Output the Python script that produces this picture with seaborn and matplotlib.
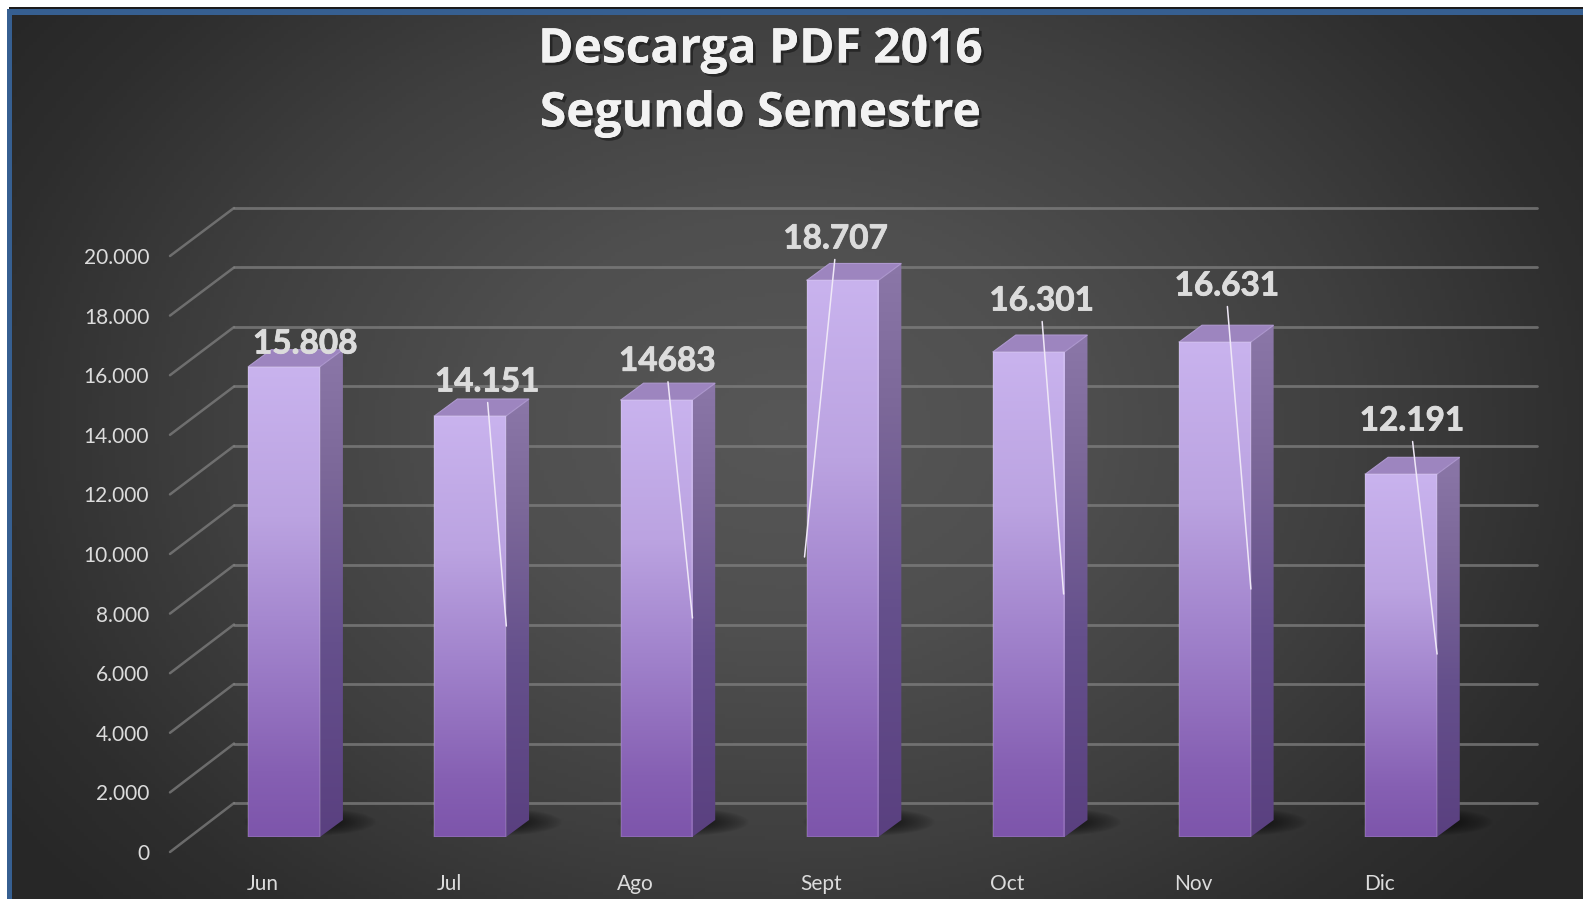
import numpy as np
import pandas as pd
import seaborn as sns
import matplotlib.pyplot as plt
import matplotlib.patheffects as pe
from matplotlib.colors import LinearSegmentedColormap
from matplotlib.patches import ConnectionPatch, Polygon, Rectangle

# Data
months = ["Jun", "Jul", "Ago", "Sept", "Oct", "Nov", "Dic"]
downloads = [15808, 14151, 14683, 18707, 16301, 16631, 12191]
value_labels = ["15.808", "14.151", "14683", "18.707", "16.301", "16.631", "12.191"]
y_ticks = list(range(0, 20001, 2000))

# Where each data label sits, and where its leader line ends (data units)
label_x = [0.113, 1.091, 2.059, 2.962, 4.07, 5.065, 6.059]
label_y = [16572, 15295, 15991, 20102, 18018, 18522, 13984]
leader_x = [None, 1.194, 2.194, 2.796, 4.188, 5.194, 6.194]
leader_y = [None, 7092, 7361, 9412, 8168, 8336, 6151]

W, H = 1583, 899
BAR_WIDTH = 0.385
DEPTH_X = 23 / 186.1      # 3D depth of the columns, in category units
DEPTH_Y = 17 / 595 * 20000  # same, in value units

sns.set_style("white")
plt.rcParams["font.family"] = ["Lato", "DejaVu Sans"]

fig = plt.figure(figsize=(W / 100, H / 100), dpi=100)
fig.patch.set_facecolor("white")


def px_axes(left, right, top, bottom, zorder):
    a = fig.add_axes([left / W, 1 - bottom / H, (right - left) / W, (bottom - top) / H], zorder=zorder)
    a.patch.set_alpha(0)
    for s in a.spines.values():
        s.set_visible(False)
    a.set_xlim(-0.5, 6.5)
    a.set_ylim(0, 20000)
    a.tick_params(length=0)
    return a


# Background: dark radial gradient with blue frame
bg = fig.add_axes([0, 0, 1, 1], zorder=0)
bg.set_xlim(0, W)
bg.set_ylim(H, 0)
bg.axis("off")
xx, yy = np.meshgrid(np.linspace(0, W, 400), np.linspace(0, H, 240))
r = np.sqrt(((xx - 780) / 960) ** 2 + ((yy - 420) / 720) ** 2)
bg_cmap = LinearSegmentedColormap.from_list(
    "bg", [(0, "#575757"), (0.3, "#4f4f4f"), (0.6, "#3f3f3f"), (0.85, "#2e2e2e"), (1, "#272727")])
bg.imshow(np.clip(r, 0, 1), extent=(9, W, H, 12), cmap=bg_cmap, vmin=0, vmax=1, aspect="auto", origin="upper")
bg.set_xlim(0, W)
bg.set_ylim(H, 0)
bg.add_patch(Rectangle((7, 9), W, 6, color="#365f91", lw=0))
bg.add_patch(Rectangle((7, 9), 5.5, H, color="#365f91", lw=0))
bg.add_patch(Rectangle((9, 7), W, 2, color="#1c1c1c", lw=0))

# Three parallel planes of the 3D chart
back = px_axes(234, 1537, 208, 803, 1)
bars = px_axes(191, 1494, 242, 837, 2)
front = px_axes(170, 1473, 256, 852, 3)

# Back wall grid
back.set_yticks(y_ticks)
back.set_yticklabels([])
back.set_xticks([])
back.grid(axis="y", color="#808080", linewidth=2, alpha=0.75, clip_on=False)
back.grid(axis="x", visible=False)

# Side wall lines going from the front plane to the back wall
for v in y_ticks:
    fig.add_artist(ConnectionPatch(xyA=(-0.5, v), coordsA=front.transData,
                                   xyB=(-0.5, v), coordsB=back.transData,
                                   color="#808080", linewidth=1.8, alpha=0.75))

# Axis labels on the front plane
front.set_yticks(y_ticks)
front.set_yticklabels([f"{v:,}".replace(",", ".") for v in y_ticks], fontsize=15, color="#dcdcdc")
front.set_xticks(range(len(months)))
front.set_xticklabels(months, fontsize=15, color="#dcdcdc")
front.tick_params(axis="y", pad=15)
front.tick_params(axis="x", pad=16)
front.grid(False)

# Columns
df = pd.DataFrame({"month": months, "downloads": downloads})
sns.barplot(data=df, x="month", y="downloads", color="#a183cc", width=BAR_WIDTH,
            saturation=1, ax=bars, zorder=3)
bars.set_xlabel("")
bars.set_ylabel("")
bars.set_xticks([])
bars.set_yticks([])
bars.grid(False)

front_cmap = LinearSegmentedColormap.from_list(
    "front", [(0, "#7d55ab"), (0.14, "#8660b3"), (0.42, "#a183cc"), (0.68, "#bba3e1"), (1, "#c9b3ee")])
side_cmap = LinearSegmentedColormap.from_list(
    "side", [(0, "#5a4080"), (0.4, "#65508c"), (0.75, "#7c6899"), (1, "#8b77a8")])
grad = np.linspace(0, 1, 256).reshape(-1, 1)

for i, (patch, v) in enumerate(zip(bars.patches, downloads)):
    x0 = patch.get_x()
    x1 = x0 + patch.get_width()

    # soft floor shadow
    sx, sy = np.meshgrid(np.linspace(-1, 1, 80), np.linspace(-1, 1, 40))
    shadow = np.zeros((40, 80, 4))
    shadow[..., 3] = 0.85 * np.clip(1 - np.sqrt(((sx - 0.1) / 0.9) ** 2 + (sy / 0.95) ** 2), 0, 1) ** 0.8
    bars.imshow(shadow, extent=(i - 0.3, i + 0.5, 0, 1000), aspect="auto", origin="lower", zorder=1)

    # right side face
    side = Polygon([(x1, 0), (x1 + DEPTH_X, DEPTH_Y), (x1 + DEPTH_X, v + DEPTH_Y), (x1, v)],
                   closed=True, transform=bars.transData, fc="none", ec="none")
    bars.add_patch(side)
    im = bars.imshow(grad, extent=(x1, x1 + DEPTH_X, 0, v + DEPTH_Y), cmap=side_cmap,
                     aspect="auto", origin="lower", zorder=2)
    im.set_clip_path(side)

    # top face
    bars.add_patch(Polygon([(x0, v), (x0 + DEPTH_X, v + DEPTH_Y), (x1 + DEPTH_X, v + DEPTH_Y), (x1, v)],
                           closed=True, fc="#9d85bf", ec="#ae98cf", lw=0.8, zorder=2.5))

    # front face
    im = bars.imshow(grad, extent=(x0, x1, 0, v), cmap=front_cmap, aspect="auto",
                     origin="lower", zorder=2.8)
    im.set_clip_path(patch)
    patch.set_facecolor("none")
    patch.set_edgecolor((1, 1, 1, 0.14))
    patch.set_linewidth(1.2)

bars.set_xlim(-0.5, 6.5)
bars.set_ylim(0, 20000)

# Data labels with leader lines
bold_fx = [pe.withStroke(linewidth=0.6, foreground="#dcdcdc")]
for i, txt in enumerate(value_labels):
    if leader_x[i] is None:
        t = bars.text(label_x[i], label_y[i], txt, ha="center", va="center", fontsize=24,
                      fontweight="bold", color="#dcdcdc", zorder=6)
    else:
        t = bars.annotate(txt, xy=(leader_x[i], leader_y[i]), xytext=(label_x[i], label_y[i]),
                          ha="center", va="center", fontsize=24, fontweight="bold", color="#dcdcdc",
                          zorder=6, annotation_clip=False,
                          arrowprops=dict(arrowstyle="-", color="#efe8f7", lw=1.1, relpos=(0.5, 0),
                                          shrinkA=2, shrinkB=0))
    t.set_path_effects(bold_fx)

# Title
shadow_fx = [pe.withSimplePatchShadow(offset=(2, -2), shadow_rgbFace="black", alpha=0.4), pe.Normal()]
for line, ypx in zip(["Descarga PDF 2016", "Segundo Semestre"], [50, 114]):
    t = fig.text(760 / W, 1 - ypx / H, line, ha="center", va="center", fontsize=34.5,
                 fontweight="bold", color="#f2f2f2", family=["Open Sans", "DejaVu Sans"], zorder=10)
    t.set_path_effects(shadow_fx)

plt.savefig("out.png", dpi=100)
